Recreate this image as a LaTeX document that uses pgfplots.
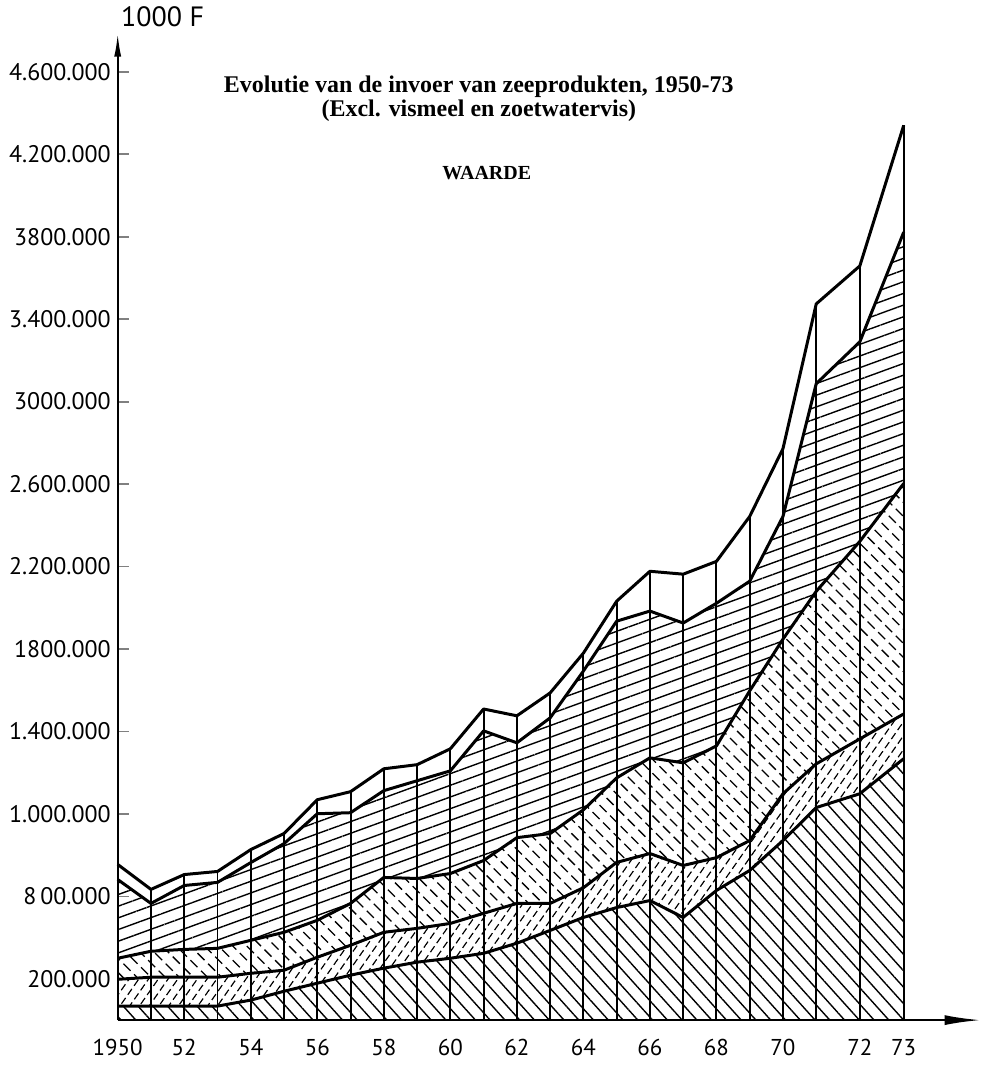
\documentclass[border=0pt]{standalone}
\usepackage{fontspec}
\setmainfont{Liberation Serif}
\newfontfamily\labelfont{PT Sans}
\usepackage{pgfplots}
\pgfplotsset{compat=1.18}
\usepackage{pgfplotstable}
\usepgfplotslibrary{fillbetween}
\usetikzlibrary{patterns.meta,arrows.meta}

\tikzdeclarepattern{
  name=dashNW, type=uncolored,
  bounding box={(0pt,-0.5pt) and (7.5pt,4.5pt)},
  tile size={(7.5pt,5pt)},
  tile transformation={rotate=-45},
  code={\draw[line width=0.65pt] (0pt,0pt) -- (5pt,0pt);}
}
\tikzdeclarepattern{
  name=dashNE, type=uncolored,
  bounding box={(0pt,-0.5pt) and (5.5pt,3.5pt)},
  tile size={(5.5pt,4pt)},
  tile transformation={rotate=55},
  code={\draw[line width=0.6pt] (0pt,0pt) -- (3.6pt,0pt);}
}

% x = drawn position of the year (1972 and 1973 are drawn wider apart)
\pgfplotstableread{
x P Q R S T
1950 68000 198000 300000 682000 755000
1951 68000 208000 334000 566000 634000
1952 68000 208000 343000 653000 706000
1953 68000 208000 348000 668000 721000
1954 97000 227000 387000 764000 827000
1955 140000 242000 426000 856000 905000
1956 179000 305000 484000 1001000 1069000
1957 218000 363000 566000 1006000 1108000
1958 252000 426000 692000 1113000 1219000
1959 281000 445000 687000 1161000 1239000
1960 300000 469000 711000 1209000 1316000
1961 324000 518000 774000 1403000 1509000
1962 373000 566000 885000 1345000 1476000
1963 435000 566000 905000 1466000 1587000
1964 498000 642000 1020000 1693000 1780000
1965 546000 765000 1175000 1935000 2032000
1966 580000 808000 1272000 1984000 2177000
1967 498000 750000 1248000 1926000 2163000
1968 629000 788000 1330000 2022000 2225000
1969 726000 871000 1597000 2129000 2443000
1970 871000 1098000 1848000 2443000 2772000
1971 1031000 1243000 2080000 3087000 3474000
1972.31 1098000 1364000 2322000 3290000 3658000
1973.63 1268000 1485000 2603000 3822000 4340000
}\data

\begin{document}
\begin{tikzpicture}
\begin{axis}[
  at={(0pt,0pt)}, anchor=south west,
  scale only axis, width=432.5pt, height=495pt,
  xmin=1950, xmax=1975.94, ymin=0, ymax=4790000,
  axis lines=left,
  axis line style={line width=1.1pt},
  x axis line style={-{Latex[length=18pt,width=5pt]}},
  y axis line style={-{Latex[length=12pt,width=3.5pt]}},
  clip=false,
  xtick={1950,1952,1954,1956,1958,1960,1962,1964,1966,1968,1970,1972.31,1973.63},
  xticklabels={1950,52,54,56,58,60,62,64,66,68,70,72,73},
  ytick={200000,600000,1000000,1400000,1800000,2200000,2600000,3000000,3400000,3800000,4200000,4600000},
  yticklabels={200.000,8\,00.000,1.000.000,1.400.000,1800.000,2.200.000,2.600.000,3000.000,3.400.000,3800.000,4.200.000,4.600.000},
  x tick style={draw=none},
  y tick style={line width=0.9pt},
  tick align=inside,
  major tick length=5.5pt,
  yticklabel style={font=\labelfont\fontsize{12}{14}\selectfont},
  xticklabel style={font=\labelfont\fontsize{11.5}{13}\selectfont, yshift=-6pt},
  scaled y ticks=false,
]
\addplot[draw=none, name path=B] coordinates {(1950,0) (1973.63,0)};
\addplot[draw=none, name path=P] table[x=x,y=P]{\data};
\addplot[draw=none, name path=Q] table[x=x,y=Q]{\data};
\addplot[draw=none, name path=R] table[x=x,y=R]{\data};
\addplot[draw=none, name path=S] table[x=x,y=S]{\data};

\addplot[pattern={Lines[angle=-48,distance=5.5pt,line width=0.7pt]}] fill between[of=B and P];
\addplot[pattern=dashNE] fill between[of=P and Q];
\addplot[pattern=dashNW] fill between[of=Q and R];
\addplot[pattern={Lines[angle=20,distance=5.5pt,line width=0.7pt]}] fill between[of=R and S];

\addplot[ycomb, line width=1pt, black] table[x=x,y=T]{\data};
\addplot[line width=1.5pt, line join=round] table[x=x,y=P]{\data};
\addplot[line width=1.5pt, line join=round] table[x=x,y=Q]{\data};
\addplot[line width=1.5pt, line join=round] table[x=x,y=R]{\data};
\addplot[line width=1.5pt, line join=round] table[x=x,y=S]{\data};
\addplot[line width=1.5pt, line join=round] table[x=x,y=T]{\data};

\node[font=\fontsize{12}{14}\selectfont\bfseries] at (axis description cs:0.4185,0.9455) {Evolutie van de invoer van zeeprodukten, 1950-73};
\node[font=\fontsize{12}{14}\selectfont\bfseries] at (axis description cs:0.4185,0.9212) {(Excl. vismeel en zoetwatervis)};
\node[font=\fontsize{10}{12}\selectfont\bfseries] at (axis description cs:0.4277,0.8576) {WAARDE};
\node[font=\labelfont\fontsize{14}{16}\selectfont] at (axis description cs:0.052,1.016) {1000 F};
\end{axis}
\path (-59pt,-23pt) rectangle (435.5pt,510pt);
\end{tikzpicture}
\end{document}
